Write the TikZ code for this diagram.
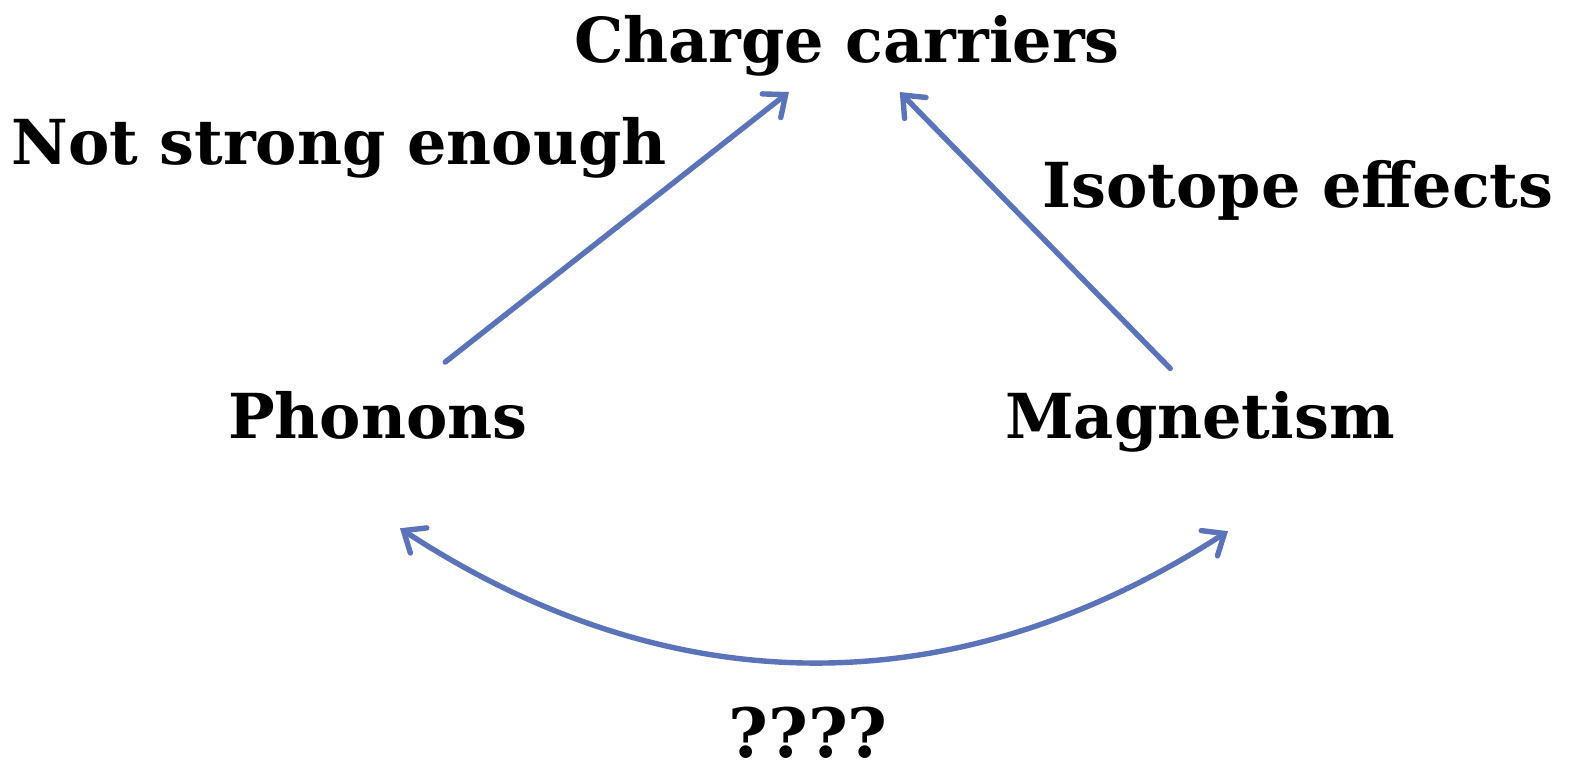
\documentclass[tikz,border=0pt]{standalone}
\usepackage{fontspec}
\setmainfont{DejaVu Serif}
\usetikzlibrary{arrows.meta}
\definecolor{mArrow}{HTML}{5B73B9}

\begin{document}
\begin{tikzpicture}[x=0.5pt,y=-0.5pt,
  >={Straight Barb[length=9pt,width=15pt,line cap=round]},
  lbl/.style={font=\bfseries\fontsize{31}{36}\selectfont,inner sep=0pt,anchor=base},
  arr/.style={->,line width=2.7pt,line cap=round,mArrow}
]
\useasboundingbox (0,0) rectangle (1572,774);
\node[lbl] (c) at (847,63) {Charge carriers};
\node[lbl] (ph) at (378,438) {Phonons};
\node[lbl] (mg) at (1200,438) {Magnetism};
\node[lbl] (ns) at (339,165) {Not strong enough};
\node[lbl] (iso) at (1298,208) {Isotope effects};
\node[lbl,font=\bfseries\fontsize{34}{40}\selectfont] (q) at (808,757) {????};
\draw[arr,shorten <=23pt,shorten >=12pt] (ph) -- (c);
\draw[arr,shorten <=37pt,shorten >=32pt] ([xshift=11pt]mg.center) -- ([xshift=4pt]c.center);
\draw[arr,<->] ([shift={(11pt,-44.5pt)}]ph.south) to[bend right=33] ([shift={(14pt,-39.5pt)}]mg.south);
\end{tikzpicture}
\end{document}
